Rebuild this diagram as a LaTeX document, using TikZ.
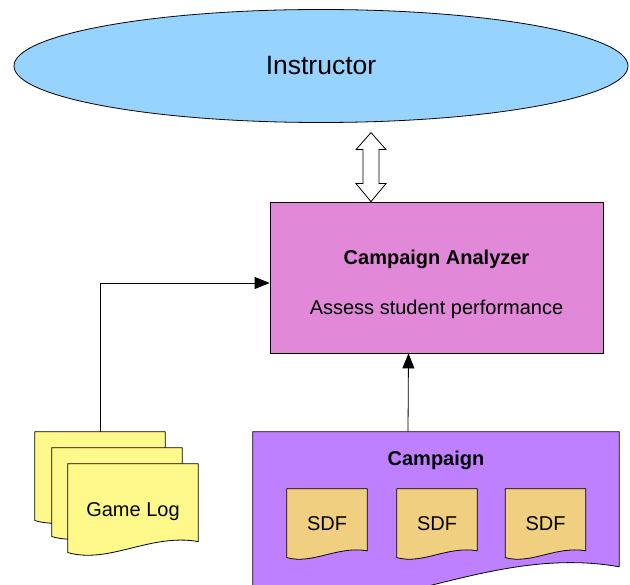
\documentclass[tikz,border=0pt]{standalone}
\usepackage{fontspec}
\setmainfont{Liberation Sans}
\usetikzlibrary{shapes.geometric,arrows.meta,backgrounds}
\definecolor{instblue}{HTML}{97D3FF}
\definecolor{anapink}{HTML}{E189D8}
\definecolor{camppurple}{HTML}{BF80FF}
\definecolor{logyellow}{HTML}{FFF98C}
\definecolor{sdftan}{HTML}{F0D080}
\newcommand\docpage[3]{\begin{pgfonlayer}{background}
  \draw[outline,fill=#3] (#1.north west) -- ([yshift={0.02*#2}]#1.south west)
    .. controls +({0.32*#2},{0.09*#2}) and +({-0.37*#2},{-0.065*#2}) .. ([yshift={0.105*#2}]#1.south east)
    -- (#1.north east) -- cycle;
\end{pgfonlayer}}
\tikzset{outline/.style={draw=black,line width=0.8pt},
  every node/.style={font=\fontsize{20}{24}\selectfont},
  every label/.style={font=\fontsize{20}{24}\selectfont},
  instnode/.style={outline,ellipse,fill=instblue,inner sep=0pt,minimum width=614,minimum height=113,font=\fontsize{26.5}{30}\selectfont},
  anabox/.style={outline,rectangle,fill=anapink,minimum width=333,minimum height=151},
  docbox/.style={rectangle,inner sep=0pt,minimum width=#1,text depth=0pt},
  bigarrow/.style={outline,fill=white,line join=miter},
  conn/.style={outline,-{Triangle[length=15pt,width=12pt]}}}

\begin{document}
\begin{tikzpicture}[x=1pt,y=-1pt]
\useasboundingbox (0,0) rectangle (630,585);
\node[instnode] (ins) at (321,66) {Instructor};
\node[anabox,
  label={[anchor=center,yshift=-57.5]north:\textbf{Campaign Analyzer}},
  label={[anchor=center,yshift=44]south:Assess student performance}] (ana) at (436.5,277.5) {};
\draw[bigarrow] ([xshift=-65.5]ana.north) -- ++(15,-18) -- ++(-7,0) -- ++(0,-34) -- ++(7,0) -- ++(-15,-17)
  -- ++(-15,17) -- ++(7,0) -- ++(0,34) -- ++(-7,0) -- cycle;

\node[docbox=130,minimum height=91] (log1) at (100,477.5) {};
\docpage{log1}{130}{logyellow}
\node[docbox=130,minimum height=91] (log2) at (117,493.5) {};
\docpage{log2}{130}{logyellow}
\node[docbox=130,minimum height=91] (log3) at (133,509.5) {Game Log};
\docpage{log3}{130}{logyellow}

\node[docbox=366,minimum height=173,label={[anchor=center,yshift=-28.5]north:\textbf{Campaign}}] (camp) at (436,518.5) {};
\docpage{camp}{366}{camppurple}
\foreach \x/\n in {327/1,437/2,545.5/3}{
  \node[docbox=80,minimum height=70] (sdf\n) at (\x,524) {SDF};
  \docpage{sdf\n}{80}{sdftan}
}

\draw[conn] (log1.north) |- ([yshift=-5.5]ana.west);
\draw[conn] ([xshift=-28]camp.north) -- ([xshift=-28]ana.south);
\end{tikzpicture}
\end{document}
